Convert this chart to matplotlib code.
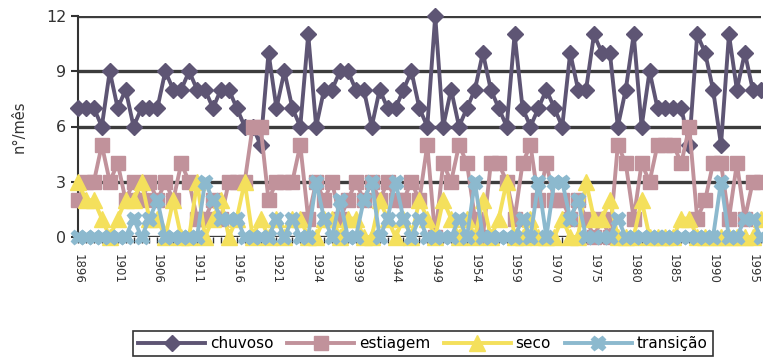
import numpy as np
import matplotlib.pyplot as plt

anos = (list(range(1896, 1922)) + list(range(1930, 1960))
        + list(range(1966, 1997)))

chuvoso = [7, 7, 7, 6, 9, 7, 8, 6, 7, 7, 7, 9, 8, 8, 9, 8, 8, 7, 8, 8,
           7, 6, 6, 5, 10, 7, 9, 7, 6, 11, 6, 8, 8, 9, 9, 8, 8, 6, 8, 7,
           7, 8, 9, 7, 6, 12, 6, 8, 6, 7, 8, 10, 8, 7, 6, 11, 7, 6, 7, 8,
           7, 6, 10, 8, 8, 11, 10, 10, 6, 8, 11, 6, 9, 7, 7, 7, 7, 5, 11, 10,
           8, 5, 11, 8, 10, 8, 8]
estiagem = [2, 3, 3, 5, 3, 4, 2, 3, 2, 3, 2, 3, 2, 4, 3, 1, 1, 2, 1, 3,
            3, 3, 6, 6, 2, 3, 3, 3, 5, 1, 3, 2, 3, 1, 2, 3, 2, 3, 2, 3,
            2, 2, 3, 2, 5, 0, 4, 3, 5, 4, 1, 0, 4, 4, 3, 1, 4, 5, 2, 4,
            2, 2, 1, 2, 1, 0, 1, 0, 5, 4, 1, 4, 3, 5, 5, 5, 4, 6, 1, 2,
            4, 4, 1, 4, 1, 3, 3]
seco = [3, 2, 2, 1, 0, 1, 2, 2, 3, 1, 1, 0, 2, 0, 0, 3, 0, 1, 2, 0,
        1, 3, 0, 1, 0, 1, 0, 1, 1, 0, 0, 1, 1, 0, 1, 1, 0, 0, 2, 1,
        0, 1, 0, 2, 1, 0, 2, 1, 0, 1, 0, 2, 0, 1, 3, 0, 0, 1, 0, 0,
        0, 1, 0, 0, 3, 1, 1, 2, 0, 0, 0, 2, 0, 0, 0, 0, 1, 1, 0, 0,
        0, 0, 0, 0, 0, 0, 1]
transicao = [0, 0, 0, 0, 0, 0, 0, 1, 0, 1, 2, 0, 0, 0, 0, 0, 3, 2, 1, 1,
             1, 0, 0, 0, 0, 1, 0, 1, 0, 0, 3, 1, 0, 2, 0, 0, 2, 3, 0, 1,
             3, 1, 0, 1, 0, 0, 0, 0, 1, 0, 3, 0, 0, 0, 0, 0, 1, 0, 3, 0,
             3, 3, 1, 2, 0, 0, 0, 0, 1, 0, 0, 0, 0, 0, 0, 0, 0, 0, 0, 0,
             0, 3, 0, 0, 1, 1, 0]

x = np.arange(len(anos))

fig = plt.figure(figsize=(7.63, 3.64), dpi=100)
ax = fig.add_axes([78 / 763, 1 - 237 / 364, (760.7 - 78) / 763, 221 / 364])

ax.plot(x, chuvoso, color='#5e5574', lw=2.8, marker='D', ms=8.5,
        label='chuvoso', clip_on=False, zorder=3)
ax.plot(x, estiagem, color='#c1929b', lw=2.8, marker='s', ms=10.5,
        label='estiagem', clip_on=False, zorder=4)
ax.plot(x, seco, color='#f4e05c', lw=2.8, marker='^', ms=11.5,
        label='seco', clip_on=False, zorder=5)
ax.plot(x, transicao, color='#8cb9ce', lw=2.8, marker='X', ms=10.5,
        label='transição', clip_on=False, zorder=6)

ax.set_xlim(0, len(anos) - 1)
ax.set_ylim(0, 12)
ax.set_yticks([0, 3, 6, 9, 12])
ax.yaxis.grid(True, color='#3c3c3c', lw=2.4)
ax.set_axisbelow(True)

ax.set_xticks(x)
ax.set_xticklabels([str(a) if i % 5 == 0 else '' for i, a in enumerate(anos)],
                   rotation=-90, fontsize=8.5, color='#333333')
ax.tick_params(axis='x', length=4, width=1, color='#333333', pad=8)
ax.tick_params(axis='y', length=5, width=1.5, color='#333333',
               labelsize=11.5, labelcolor='#333333')

for s in ['top', 'right', 'bottom']:
    ax.spines[s].set_visible(False)
ax.spines['left'].set_color('#333333')
ax.spines['left'].set_linewidth(1.5)

ax.set_ylabel('n°/mês', fontsize=10.5, color='#333333', labelpad=14)

leg = fig.legend(loc='lower center', bbox_to_anchor=(0.554, 0.0), ncol=4,
                 fontsize=11, frameon=True, fancybox=False,
                 edgecolor='black', handlelength=4.4, columnspacing=0.9,
                 handletextpad=0.3, borderpad=0.35)
leg.get_frame().set_linewidth(1.2)

fig.savefig('out.png', dpi=100)
